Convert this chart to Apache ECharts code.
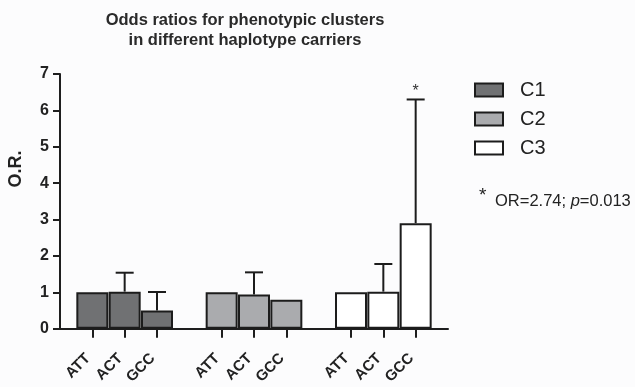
<!DOCTYPE html>
<html>
<head>
<meta charset="utf-8">
<script src="https://cdn.jsdelivr.net/npm/echarts@6/dist/echarts.min.js"></script>
<style>html,body{margin:0;padding:0;background:#fcfcfd;}#c{width:635px;height:387px;}</style>
</head>
<body>
<div id="c"></div>
<script>
const titleLines = ['Odds ratios for phenotypic clusters', 'in different haplotype carriers'];
const haplotypes = ['ATT', 'ACT', 'GCC'];
const clusters = ['C1', 'C2', 'C3'];
const c1Values = [1.0, 1.02, 0.50];
const c2Values = [1.0, 0.94, 0.80];
const c3Values = [1.0, 1.02, 2.90];
const c1ErrTop = [null, 1.54, 1.01];
const c2ErrTop = [null, 1.55, null];
const c3ErrTop = [null, 1.78, 6.30];
const c3Significant = [false, false, true];
const yTicks = [0, 1, 2, 3, 4, 5, 6, 7];
const annotationOR = 'OR=2.74; ';
const annotationP = '0.013';

const clusterValues = [c1Values, c2Values, c3Values];
const clusterErr = [c1ErrTop, c2ErrTop, c3ErrTop];
const clusterSig = [[false,false,false],[false,false,false], c3Significant];
const colors = ['#707173', '#aaabae', '#ffffff'];

// category slots: leading gap, 3 haplotypes per cluster separated by gaps, trailing gap
const categories = [''];
clusters.forEach((c, ci) => {
  haplotypes.forEach(h => { categories.push(h); });
  categories.push('');
});

function barData(ci) {
  const arr = categories.map(() => '-');
  haplotypes.forEach((h, hi) => { arr[1 + ci * 4 + hi] = clusterValues[ci][hi]; });
  return arr;
}
const errData = [];
clusters.forEach((c, ci) => haplotypes.forEach((h, hi) => {
  const e = clusterErr[ci][hi];
  if (e != null) errData.push([1 + ci * 4 + hi, clusterValues[ci][hi], e, clusterSig[ci][hi] ? 1 : 0]);
}));

const axisColor = '#1e1e1e';
const chart = echarts.init(document.getElementById('c'), null, {renderer: 'canvas'});
const series = clusters.map((c, ci) => ({
  name: c, type: 'bar', data: barData(ci), barWidth: 32, barGap: '-100%',
  itemStyle: {color: colors[ci], borderColor: '#1c1c1c', borderWidth: 2},
  emphasis: {disabled: true}, z: 2
}));
series.push({
  type: 'custom', data: errData, z: 3, silent: true,
  encode: {x: 0, y: [1, 2]},
  renderItem: function (params, api) {
    const x = api.value(0);
    const base = api.coord([x, api.value(1)]);
    const top = api.coord([x, api.value(2)]);
    const half = 9;
    const children = [
      {type: 'line', shape: {x1: base[0], y1: base[1], x2: top[0], y2: top[1]}, style: {stroke: '#1c1c1c', lineWidth: 2}},
      {type: 'line', shape: {x1: top[0] - half, y1: top[1], x2: top[0] + half, y2: top[1]}, style: {stroke: '#1c1c1c', lineWidth: 2}}
    ];
    if (api.value(3)) {
      children.push({type: 'text', style: {text: '*', x: top[0], y: top[1], align: 'center', verticalAlign: 'bottom', font: '16px Arial', fill: '#333'}});
    }
    return {type: 'group', children: children};
  }
});

chart.setOption({
  backgroundColor: '#fcfcfd',
  animation: false,
  title: {
    text: titleLines.join('\n'), left: 240, top: 5, textAlign: 'center',
    textStyle: {fontFamily: 'Arial', fontSize: 16.5, fontWeight: 'bold', color: '#2a2a2a', lineHeight: 20}
  },
  legend: {
    data: clusters, orient: 'vertical', left: 474, top: 80, padding: 0, icon: 'rect',
    itemWidth: 28, itemHeight: 13, itemGap: 9,
    textStyle: {fontFamily: 'Arial', fontSize: 20, color: '#222', lineHeight: 20, padding: [0, 0, 0, 12]},
    selectedMode: false
  },
  grid: {left: 60, right: 187, top: 74, bottom: 58, containLabel: false},
  xAxis: {
    type: 'category', data: categories, boundaryGap: false,
    axisLine: {lineStyle: {color: axisColor, width: 2}},
    axisTick: {length: 9, lineStyle: {color: axisColor, width: 2}, interval: (i, v) => v !== ''},
    axisLabel: {interval: (i, v) => v !== '', rotate: 45, margin: 23, padding: [0, 6, 0, 0], fontFamily: 'Arial', fontWeight: 'bold', fontSize: 15, color: '#222'},
    splitLine: {show: false}
  },
  yAxis: {
    type: 'value', min: yTicks[0], max: yTicks[yTicks.length - 1], interval: 1,
    axisLine: {show: true, lineStyle: {color: axisColor, width: 2}},
    axisTick: {show: true, length: 7, lineStyle: {color: axisColor, width: 2}},
    axisLabel: {margin: 11, fontFamily: 'Arial', fontWeight: 'bold', fontSize: 16, color: '#222'},
    splitLine: {show: false}
  },
  graphic: [
    {type: 'text', x: 16, y: 169, rotation: Math.PI / 2, style: {text: 'O.R.', font: 'bold 18px Arial', fill: '#222', align: 'center', verticalAlign: 'middle'}},
    {type: 'text', x: 479, y: 186, style: {text: '*', font: '19px Arial', fill: '#222'}},
    {type: 'text', x: 495, y: 201, style: {
      text: '{n|' + annotationOR + '}{i|p}{n|=' + annotationP + '}', verticalAlign: 'middle',
      rich: {n: {font: '16.5px Arial', fill: '#222'}, i: {font: 'italic 16.5px Arial', fill: '#222'}}
    }}
  ],
  series: series
});
</script>
</body>
</html>
